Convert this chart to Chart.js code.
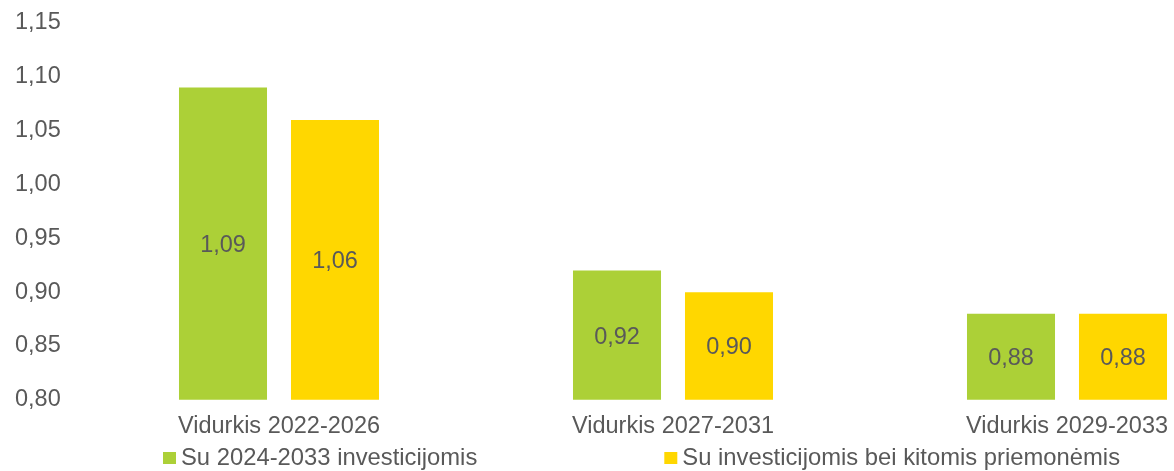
<!DOCTYPE html>
<html>
<head>
<meta charset="utf-8">
<script src="https://cdn.jsdelivr.net/npm/chart.js@4"></script>
<style>
  html, body { margin: 0; padding: 0; background: #fff; overflow: hidden; }
  #wrap { width: 1264px; height: 471px; }
</style>
</head>
<body>
<div id="wrap"><canvas id="chart" width="1264" height="471"></canvas></div>
<script>
const periods = ["Vidurkis 2022-2026", "Vidurkis 2027-2031", "Vidurkis 2029-2033"];
const seriesNames = ["Su 2024-2033 investicijomis", "Su investicijomis bei kitomis priemonėmis"];
const withInvestments = [1.09, 0.92, 0.88];
const withMeasures = [1.06, 0.90, 0.88];

const GREEN = "#acd037";
const YELLOW = "#ffd700";
const TEXT = "#595959";
const FONT = "'Liberation Sans', Arial, sans-serif";
const SIZE = 23.5;
const CAT_PCT = 0.5685;

const fmt = (v) => v.toFixed(2).replace(".", ",");

// value labels in the middle of each bar
const barValues = {
    id: "barValues",
    afterDraw(chart) {
        const ctx = chart.ctx;
        const yScale = chart.scales.y;
        const xScale = chart.scales.x;
        const n = chart.data.datasets.length;
        ctx.save();
        ctx.font = SIZE + "px " + FONT;
        ctx.fillStyle = TEXT;
        ctx.textAlign = "center";
        ctx.textBaseline = "middle";
        chart.data.datasets.forEach((ds, i) => {
            const meta = chart.getDatasetMeta(i);
            ds.data.forEach((v, j) => {
                const bar = meta.data[j];
                let x = bar ? bar.x : NaN;
                if (!isFinite(x)) {
                    // fall back to the slot position inside the category
                    const cw = xScale.width / chart.data.labels.length * CAT_PCT;
                    x = xScale.getPixelForValue(j) - cw / 2 + cw / n * (i + 0.5);
                }
                const top = yScale.getPixelForValue(v);
                const bottom = yScale.getPixelForValue(yScale.min);
                ctx.fillText(fmt(v), x, (top + bottom) / 2 + 2);
            });
        });
        ctx.restore();
    }
};

// wide-spaced legend row along the bottom
const bottomLegend = {
    id: "bottomLegend",
    afterDraw(chart) {
        const ctx = chart.ctx;
        const box = 12;
        const y = chart.height - 13;
        let x = chart.chartArea.left + 81;
        ctx.save();
        ctx.font = "23.8px " + FONT;
        ctx.textBaseline = "middle";
        chart.data.datasets.forEach((ds) => {
            ctx.fillStyle = ds.backgroundColor;
            ctx.fillRect(x, y - box / 2, box + 1, box);
            x += box + 6;
            ctx.fillStyle = TEXT;
            ctx.fillText(ds.label, x, y);
            x += ctx.measureText(ds.label).width + 187;
        });
        ctx.restore();
    }
};

new Chart(document.getElementById("chart"), {
    type: "bar",
    data: {
        labels: periods,
        datasets: [
            { label: seriesNames[0], data: withInvestments, backgroundColor: GREEN },
            { label: seriesNames[1], data: withMeasures, backgroundColor: YELLOW }
        ]
    },
    options: {
        responsive: false,
        animation: false,
        layout: { padding: { top: 23, bottom: 17, left: 15, right: 0 } },
        datasets: {
            bar: { categoryPercentage: CAT_PCT, barPercentage: 0.786 }
        },
        plugins: {
            legend: { display: false },
            tooltip: { enabled: false }
        },
        scales: {
            x: {
                grid: { display: false, drawTicks: false },
                border: { display: false },
                ticks: { color: TEXT, font: { family: FONT, size: SIZE }, padding: 13, maxRotation: 0 }
            },
            y: {
                min: 0.8,
                max: 1.15,
                grid: { display: false, drawTicks: false },
                border: { display: false },
                afterFit: (scale) => { scale.width = 67; },
                ticks: {
                    stepSize: 0.05,
                    color: TEXT,
                    font: { family: FONT, size: SIZE },
                    padding: 0,
                    crossAlign: "far",
                    callback: (v) => fmt(v)
                }
            }
        }
    },
    plugins: [barValues, bottomLegend]
});
</script>
</body>
</html>
